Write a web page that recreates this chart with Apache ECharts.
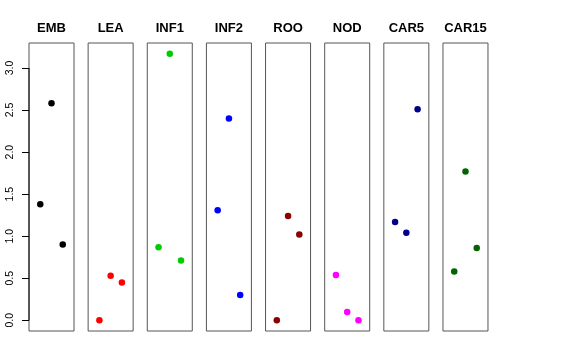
<!DOCTYPE html>
<html>
<head>
<meta charset="utf-8">
<script src="https://cdn.jsdelivr.net/npm/echarts@6/dist/echarts.min.js"></script>
<style>html,body{margin:0;padding:0;background:#fff}#c{width:576px;height:360px}</style>
</head>
<body>
<div id="c"></div>
<script>
var categories = ['EMB', 'LEA', 'INF1', 'INF2', 'ROO', 'NOD', 'CAR5', 'CAR15'];
var xPositions = [1, 2, 3];
var EMB = [1.38, 2.58, 0.90];
var LEA = [0.00, 0.53, 0.45];
var INF1 = [0.87, 3.17, 0.71];
var INF2 = [1.31, 2.40, 0.30];
var ROO = [0.00, 1.24, 1.02];
var NOD = [0.54, 0.10, 0.00];
var CAR5 = [1.17, 1.04, 2.51];
var CAR15 = [0.58, 1.77, 0.86];
var yTicks = [0, 0.5, 1, 1.5, 2, 2.5, 3];
var colors = ['#000000', '#FF0000', '#00CD00', '#0000FF', '#8B0000', '#FF00FF', '#00008B', '#006400'];

(function () {
  var seriesValues = [EMB, LEA, INF1, INF2, ROO, NOD, CAR5, CAR15];
  var chart = echarts.init(document.getElementById('c'));

  var grids = [], xAxes = [], yAxes = [], series = [], titles = [];
  var left0 = 29, step = 59.14, w = 45, gTop = 43, gH = 288;
  categories.forEach(function (name, i) {
    var l = left0 + i * step;
    grids.push({left: l, top: gTop, width: w, height: gH, show: true, borderColor: '#555', borderWidth: 1, backgroundColor: 'transparent', containLabel: false});
    xAxes.push({type: 'value', gridIndex: i, min: 0, max: 4, show: false});
    yAxes.push({
      type: 'value', gridIndex: i, min: -0.127, max: 3.297,
      splitLine: {show: false},
      axisLine: {show: false},
      axisTick: {show: i === 0, customValues: yTicks, length: 7, inside: false, lineStyle: {color: '#000'}},
      axisLabel: {show: i === 0, customValues: yTicks, rotate: 90, fontSize: 10.5, fontFamily: 'Liberation Sans, Arial, sans-serif', color: '#000', margin: 13,
        formatter: function (v) { return v.toFixed(1); }}
    });
    series.push({
      type: 'scatter', xAxisIndex: i, yAxisIndex: i, symbolSize: 6.5,
      itemStyle: {color: colors[i], opacity: 1},
      data: seriesValues[i].map(function (v, k) { return [xPositions[k], v]; })
    });
    titles.push({text: name, left: l + w / 2, top: 22, textAlign: 'center', padding: 0,
      textStyle: {fontSize: 13, fontWeight: 'bold', color: '#000', fontFamily: 'Liberation Sans, Arial, sans-serif'}});
  });
  series.push({
    type: 'line', xAxisIndex: 0, yAxisIndex: 0, symbol: 'none', clip: false, silent: true,
    lineStyle: {color: '#000', width: 1},
    data: [[0, yTicks[0]], [0, yTicks[yTicks.length - 1]]]
  });

  chart.setOption({
    animation: false,
    title: titles,
    grid: grids,
    xAxis: xAxes,
    yAxis: yAxes,
    series: series
  });
})();
</script>
</body>
</html>
